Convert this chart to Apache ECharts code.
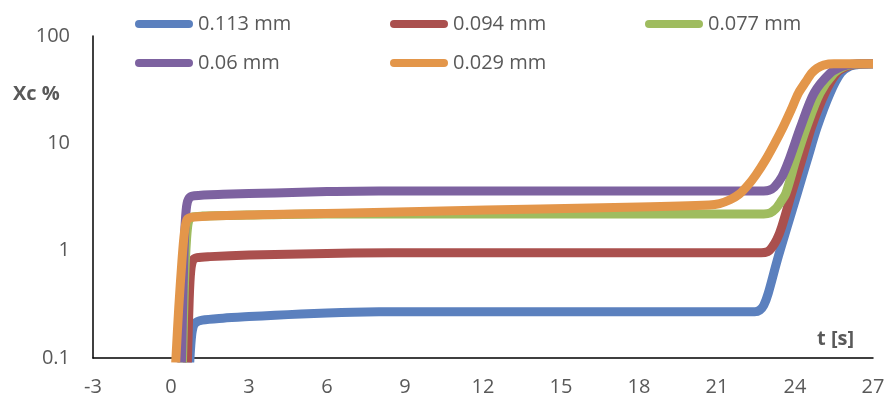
<!DOCTYPE html>
<html>
<head>
<meta charset="utf-8">
<script src="https://cdn.jsdelivr.net/npm/echarts@6/dist/echarts.min.js"></script>
<style>
html,body{margin:0;padding:0;background:#fff;}
#chart{width:888px;height:402px;}
</style>
</head>
<body>
<div id="chart"></div>
<script>
// Series names
const seriesNames = ['0.113 mm', '0.094 mm', '0.077 mm', '0.06 mm', '0.029 mm'];
// x-axis tick settings (t [s])
const xMin = -3, xMax = 27, xStep = 3;
// y-axis (log) range
const yMin = 0.1, yMax = 100;

// [t (s), Xc (%)]
const d113 = [[0.72,0.09],[0.76,0.13],[0.82,0.18],[0.92,0.21],[1.2,0.225],[2,0.235],[3,0.243],[4,0.25],[5,0.257],[6,0.263],[7,0.267],[9,0.27],[12,0.27],[15,0.27],[18,0.27],[21,0.27],[22.45,0.27],[22.65,0.28],[22.8,0.31],[22.97,0.4],[23.32,0.82],[23.7,1.67],[24.09,3.43],[24.47,7.0],[24.86,14.3],[25.35,29.3],[25.76,45],[26.1,52],[26.5,54.5],[27,55]];
const d094 = [[0.63,0.09],[0.7,0.35],[0.76,0.65],[0.85,0.82],[1.0,0.86],[1.5,0.88],[3,0.91],[5,0.93],[7,0.95],[10,0.955],[15,0.955],[20,0.955],[22.7,0.955],[22.95,0.98],[23.1,1.06],[23.3,1.27],[23.49,1.67],[23.87,3.43],[24.26,7.0],[24.64,14.3],[25.15,29.3],[25.6,45],[26.0,52],[26.4,54.5],[27,55]];
const d077 = [[0.44,0.09],[0.52,0.5],[0.6,1.3],[0.68,1.9],[0.8,2.05],[1.2,2.1],[3,2.15],[6,2.2],[10,2.2],[15,2.2],[20,2.2],[22.8,2.2],[23.05,2.25],[23.25,2.45],[23.45,2.85],[23.65,3.43],[24.03,7.0],[24.45,14.3],[24.96,29.3],[25.5,45],[25.9,52],[26.3,54.5],[27,55]];
const d060 = [[0.4,0.09],[0.47,0.5],[0.53,1.5],[0.6,2.6],[0.7,3.1],[0.9,3.25],[2,3.35],[4,3.45],[6,3.55],[8,3.6],[12,3.6],[16,3.6],[20,3.6],[22.8,3.6],[23.0,3.65],[23.2,3.9],[23.5,4.9],[23.77,7.0],[24.22,14.3],[24.73,29.3],[25.35,45],[25.8,52],[26.2,54.5],[27,55]];
const d029 = [[0.18,0.09],[0.3,0.3],[0.42,0.8],[0.52,1.5],[0.62,1.95],[0.8,2.05],[1.5,2.1],[3,2.15],[6.5,2.23],[10,2.33],[14.2,2.45],[18,2.55],[20.7,2.67],[21.1,2.75],[21.5,2.98],[21.85,3.35],[22.2,4.1],[22.5,5.1],[22.85,6.9],[23.2,9.8],[23.55,14.3],[23.85,20.5],[24.13,29.3],[24.4,37],[24.64,45],[24.85,50],[25.1,53.5],[25.5,55],[26,55],[27,55]];

const seriesData = [d113, d094, d077, d060, d029];
const colors = ['#5B80BE', '#AA504E', '#9FBC5F', '#7D62A0', '#E3964A'];

const FONT = '"Open Sans", "Noto Sans", sans-serif';
const TXT = '#595959';

const legendPos = [
  {left: 130, top: 9},
  {left: 385, top: 9},
  {left: 640, top: 9},
  {left: 130, top: 48},
  {left: 385, top: 48}
];
const iconPath = 'path://M4,0 H54 A4,4 0 0 1 54,8 H4 A4,4 0 0 1 4,0 Z';

const chart = echarts.init(document.getElementById('chart'), null, {renderer: 'canvas'});
chart.setOption({
  animation: false,
  color: colors,
  textStyle: {fontFamily: FONT},
  grid: {left: 93, right: 15, top: 36, bottom: 44, containLabel: false},
  legend: seriesNames.map((n, i) => ({
    data: [n],
    left: legendPos[i].left,
    top: legendPos[i].top,
    orient: 'horizontal',
    icon: iconPath,
    itemWidth: 58,
    itemHeight: 9,
    itemGap: 0,
    selectedMode: false,
    textStyle: {color: TXT, fontSize: 20, fontFamily: FONT}
  })),
  xAxis: {
    type: 'value',
    min: xMin, max: xMax, interval: xStep,
    axisLine: {onZero: false, lineStyle: {color: '#000', width: 1.5}},
    axisTick: {show: false},
    splitLine: {show: false},
    axisLabel: {color: TXT, fontSize: 20, margin: 19, fontFamily: FONT}
  },
  yAxis: {
    type: 'log',
    logBase: 10,
    min: yMin, max: yMax,
    axisLine: {show: true, onZero: false, lineStyle: {color: '#000', width: 1.5}},
    axisTick: {show: false},
    splitLine: {show: false},
    axisLabel: {color: TXT, fontSize: 20, margin: 23, fontFamily: FONT}
  },
  graphic: [
    {type: 'text', left: 13, top: 84, style: {text: 'Xc %', fontSize: 20, fontWeight: 'bold', fill: TXT, fontFamily: FONT}},
    {type: 'text', left: 817, top: 329, style: {text: 't [s]', fontSize: 20, fontWeight: 'bold', fill: TXT, fontFamily: FONT}}
  ],
  series: seriesNames.map((n, i) => ({
    name: n,
    type: 'line',
    data: seriesData[i],
    showSymbol: false,
    symbol: 'none',
    smooth: 0.3,
    clip: true,
    lineStyle: {width: 9, color: colors[i], cap: 'butt', join: 'round'},
    itemStyle: {color: colors[i]}
  }))
});
</script>
</body>
</html>
